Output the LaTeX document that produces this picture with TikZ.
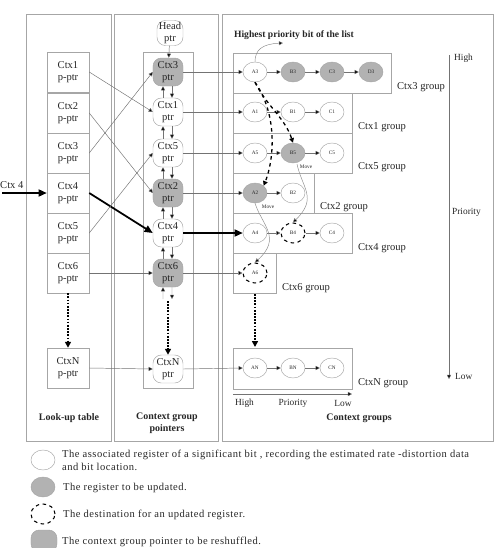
\documentclass[tikz,border=0pt]{standalone}
\usepackage{fontspec}
\setmainfont{Liberation Serif}
\usetikzlibrary{shapes.geometric,arrows.meta}

\begin{document}
\begin{tikzpicture}[x=0.03cm,y=-0.03cm,
    every node/.style={font=\fontsize{9}{10.5}\selectfont,text=black!85},
    frame/.style={draw=black!35,line width=0.5pt},
    pptr/.style={draw=black!35,minimum width=12.6mm,minimum height=12mm,
      align=center,inner sep=0pt},
    gptr/.style={draw=black!35,rounded corners=2.5mm,minimum width=9mm,
      minimum height=8.4mm,align=center,inner sep=0pt},
    upd/.style={fill=black!30},
    reg/.style={ellipse,draw=black!35,minimum width=7.2mm,minimum height=6mm,
      inner sep=0pt,font=\fontsize{4.5}{5}\selectfont},
    dest/.style={draw=black,dashed,line width=0.9pt},
    link/.style={draw=black!55,line width=0.4pt,
      -{Triangle[length=3.5pt,width=3.5pt,fill=black]}},
    heavy/.style={draw=black,line width=1.5pt,-{Triangle[length=7pt,width=6pt]}},
    far/.style={draw=black,line width=1.5pt,dash pattern=on 1.5pt off 1.2pt,
      -{Triangle[length=5pt,width=5pt]}},
    jump/.style={draw=black,line width=1.1pt,dashed,
      -{Triangle[length=4pt,width=4pt]}},
    move/.style={draw=black!45,line width=0.4pt,
      -{Triangle[length=3.5pt,width=3.5pt,fill=black]}},
    title/.style={font=\fontsize{8.5}{10}\bfseries\selectfont,align=center},
    small/.style={font=\fontsize{4.5}{5}\selectfont},
    axis/.style={font=\fontsize{8}{9}\selectfont},
    lgd/.style={anchor=west,align=left,
      font=\fontsize{9}{11}\selectfont\addfontfeature{LetterSpace=4.7}}]
  \useasboundingbox (0,0) rectangle (498,548);

  % panels
  \draw[frame] (26,14) rectangle (111,441);
  \draw[frame] (114,14) rectangle (218,441);
  \draw[frame] (222,14) rectangle (493,441);
  \draw[frame] (143,52) rectangle (193,388);

  % look-up table
  \node[pptr] (p1) at (68,72) {Ctx1\\p-ptr};
  \node[pptr] (p2) at (68,113) {Ctx2\\p-ptr};
  \node[pptr] (p3) at (68,153) {Ctx3\\p-ptr};
  \node[pptr] (p4) at (68,193) {Ctx4\\p-ptr};
  \node[pptr] (p5) at (68,233) {Ctx5\\p-ptr};
  \node[pptr] (p6) at (68,273) {Ctx6\\p-ptr};
  \node[pptr] (pN) at (68,368) {CtxN\\p-ptr};

  % context group pointers
  \node[gptr,minimum width=7.8mm,minimum height=7.5mm] (head) at (170,33) {Head\\ptr};
  \node[gptr,upd] (g3) at (168,72) {Ctx3\\ptr};
  \node[gptr] (g1) at (168,112) {Ctx1\\ptr};
  \node[gptr] (g5) at (168,153) {Ctx5\\ptr};
  \node[gptr,upd] (g2) at (168,193) {Ctx2\\ptr};
  \node[gptr] (g4) at (168,233) {Ctx4\\ptr};
  \node[gptr,upd] (g6) at (168,273) {Ctx6\\ptr};
  \node[gptr] (gN) at (168,369) {CtxN\\ptr};
  \coordinate (g6up) at (163,299);
  \coordinate (g6dn) at (172,299);

  % context groups
  \draw[frame] (233,53) rectangle (391,93);
  \draw[frame] (233,93) rectangle (352,133);
  \draw[frame] (233,133) rectangle (352,173);
  \draw[frame] (233,173) rectangle (314,213);
  \draw[frame] (233,213) rectangle (352,253);
  \draw[frame] (233,253) rectangle (276,293);
  \draw[frame] (233,348) rectangle (352,389);

  \node[reg] (a3) at (255,72) {A3};
  \node[reg,upd] (b3) at (293,72) {B3};
  \node[reg,upd] (c3) at (332,72) {C3};
  \node[reg,upd] (d3) at (371,72) {D3};
  \node[reg] (a1) at (255,112) {A1};
  \node[reg] (b1) at (293,112) {B1};
  \node[reg] (c1) at (332,112) {C1};
  \node[reg] (a5) at (255,153) {A5};
  \node[reg,upd] (b5) at (293,153) {B5};
  \node[reg] (c5) at (332,153) {C5};
  \node[reg,upd] (a2) at (255,193) {A2};
  \node[reg] (b2) at (293,193) {B2};
  \node[reg] (a4) at (255,233) {A4};
  \node[reg,dest] (b4) at (293,233) {B4};
  \node[reg] (c4) at (332,233) {C4};
  \node[reg,dest] (a6) at (255,273) {A6};
  \node[reg] (aN) at (255,368) {AN};
  \node[reg] (bN) at (293,368) {BN};
  \node[reg] (cN) at (332,368) {CN};

  \node[anchor=west] (l3) at (393,87) {Ctx3 group};
  \node[anchor=west] (l1) at (354,127) {Ctx1 group};
  \node[anchor=west] (l5) at (354,167) {Ctx5 group};
  \node[anchor=west] (l2) at (316,207) {Ctx2 group};
  \node[anchor=west] (l4) at (354,248) {Ctx4 group};
  \node[anchor=west] (l6) at (278,288) {Ctx6 group};
  \node[anchor=west] (lN) at (354,383) {CtxN group};

  \node[font=\fontsize{8.2}{9}\bfseries\selectfont] (top) at (294,35)
    {Highest priority bit of the list};
  \coordinate (topend) at (283,43);
  \node[small] (mv1) at (306,167) {Move};
  \node[small] (mv2) at (268,207) {Move};

  % input
  \node[anchor=west,inner sep=0pt] (in) at (0,185) {Ctx 4};
  \coordinate (inend) at (2,193);

  % links
  \draw[link] (head) -- (g3);
  \draw[link] ([xshift=-1.5mm]g1.north) -- ([xshift=-1.5mm]g3.south);
  \draw[link] ([xshift=1.2mm]g3.south) -- ([xshift=1.2mm]g1.north);
  \draw[link] ([xshift=-1.5mm]g5.north) -- ([xshift=-1.5mm]g1.south);
  \draw[link] ([xshift=1.2mm]g1.south) -- ([xshift=1.2mm]g5.north);
  \draw[link] ([xshift=-1.5mm]g2.north) -- ([xshift=-1.5mm]g5.south);
  \draw[link] ([xshift=1.2mm]g5.south) -- ([xshift=1.2mm]g2.north);
  \draw[link] ([xshift=-1.5mm]g4.north) -- ([xshift=-1.5mm]g2.south);
  \draw[link] ([xshift=1.2mm]g2.south) -- ([xshift=1.2mm]g4.north);
  \draw[link] ([xshift=-1.5mm]g6.north) -- ([xshift=-1.5mm]g4.south);
  \draw[link] ([xshift=1.2mm]g4.south) -- ([xshift=1.2mm]g6.north);
  \draw[link] (g6up) -- ([xshift=-1.5mm]g6.south);
  \draw[link] ([xshift=1.2mm]g6.south) -- (g6dn);
  \draw[far] (168,301) -- (gN.north);

  \draw[link] (p1.east) -- (g1.west);
  \draw[link] (p2.east) -- (g2.west);
  \draw[link] (p3.east) -- (g3.west);
  \draw[heavy] (p4.east) -- (g4.west);
  \draw[link] (p5.east) -- (g5.west);
  \draw[link] (p6.east) -- (g6.west);
  \draw[link] (pN.east) -- (gN.west);
  \draw[far] (p6.south) -- (pN.north);
  \draw[heavy] (inend) -- (p4.west);

  \draw[link] (g3.east) -- (a3.west);
  \draw[link] (g1.east) -- (a1.west);
  \draw[link] (g5.east) -- (a5.west);
  \draw[link] (g2.east) -- (a2.west);
  \draw[heavy] (g4.east) -- (a4.west);
  \draw[link] (g6.east) -- (a6.west);
  \draw[link] (gN.east) -- (aN.west);

  \draw[link] (a3) -- (b3);
  \draw[link] (b3) -- (c3);
  \draw[link] (c3) -- (d3);
  \draw[link] (a1) -- (b1);
  \draw[link] (b1) -- (c1);
  \draw[link] (a5) -- (b5);
  \draw[link] (b5) -- (c5);
  \draw[link] (a2) -- (b2);
  \draw[link] (a4) -- (b4);
  \draw[link] (b4) -- (c4);
  \draw[link] (aN) -- (bN);
  \draw[link] (bN) -- (cN);
  \draw[far] (255,294) -- (255,347);

  \draw[move] (a3.north) .. controls (255,50) and (262,44) .. (topend);
  \draw[jump] (a3.south) .. controls (266,105) and (285,118) .. (b5.north);
  \draw[jump] (a3.south) .. controls (278,115) and (274,160) .. (a2.north east);
  \draw[move] (297,164) .. controls (302,188) and (318,198) .. (b4.north);
  \draw[move] (a2.south) .. controls (262,225) and (282,238) .. (a6.north);

  % priority axes
  \draw[link] (449,55) -- (449,379);
  \node[anchor=west,axis] (hi) at (450,58) {High};
  \node[anchor=west,axis] (pr) at (448,212) {Priority};
  \node[anchor=west,axis] (lo) at (451,376) {Low};
  \draw[link] (233,394) -- (352,394);
  \node[anchor=west,axis] (hi2) at (231,403) {High};
  \node[axis] (pr2) at (293,403) {Priority};
  \node[axis] (lo2) at (343,403) {Low};

  % panel titles
  \node[title] (t1) at (69,418) {Look-up table};
  \node[title] (t2) at (167,423) {Context group\\pointers};
  \node[title] (t3) at (359,418) {Context groups};

  % legend
  \node[reg] (k1) at (43,460) {};
  \node[reg,upd] (k2) at (43,487) {};
  \node[reg,dest] (k3) at (43,514) {};
  \node[gptr,upd,minimum width=7.8mm,minimum height=6.6mm] (k4) at (44,541) {};
  \node[lgd] (d1) at (58,460) {The associated register of a significant bit , recording the estimated rate -distortion data\\and bit location.};
  \node[lgd] (d2) at (59,488) {The register to be updated.};
  \node[lgd] (d3) at (59,515) {The destination for an updated register.};
  \node[lgd] (d4) at (58,542) {The context group pointer to be reshuffled.};
\end{tikzpicture}
\end{document}
